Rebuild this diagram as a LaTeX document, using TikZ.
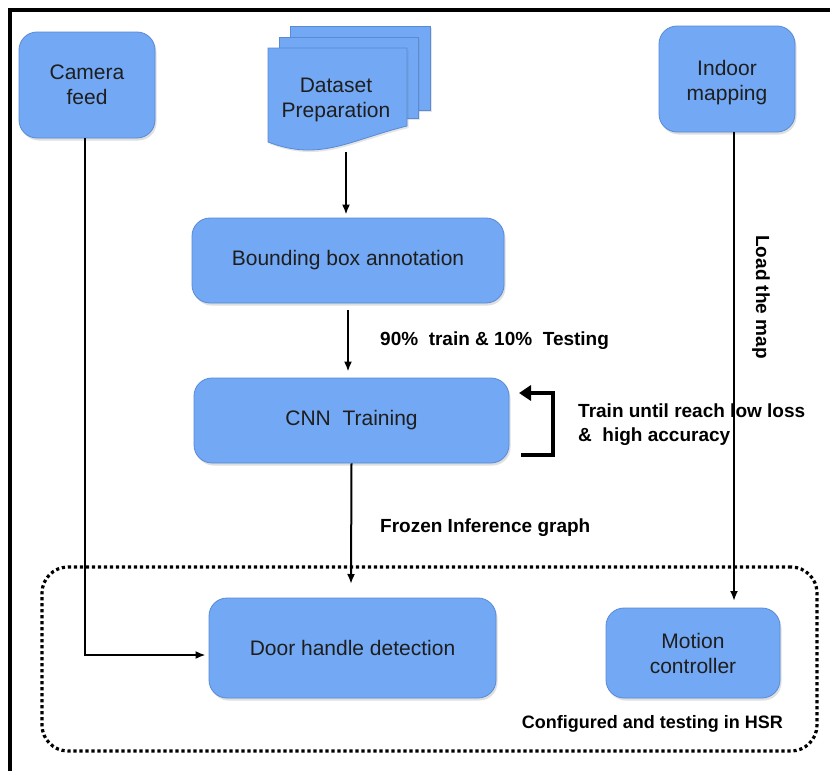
\documentclass[tikz,border=0pt]{standalone}
\usepackage{fontspec}
\setmainfont{Liberation Sans}
\usetikzlibrary{arrows.meta,shadows,calc}
\definecolor{boxfill}{RGB}{114,168,244}
\definecolor{boxline}{RGB}{88,138,214}
\definecolor{txt}{RGB}{30,30,30}
\begin{document}
\begin{tikzpicture}[x=1pt,y=-1pt,
  box/.style={draw=boxline, line width=0.8pt, fill=boxfill, rounded corners=18pt,
    text=txt, font=\fontsize{21}{25}\selectfont, align=center, inner sep=0pt,
    drop shadow={opacity=0.25, shadow xshift=1.5pt, shadow yshift=-2.5pt}},
  sheet/.style={draw=boxline, line width=0.8pt, fill=boxfill},
  arr/.style={line width=2pt, -{Latex[length=10pt,width=8pt]}},
  lbl/.style={font=\bfseries\fontsize{19}{24}\selectfont, text=black, inner sep=0pt},
  frame/.style={line width=3.5pt, line cap=rect},
  hsrbox/.style={draw, line width=3.2pt, dash pattern=on 3.2pt off 2.8pt, rounded corners=26pt}]
\useasboundingbox (0,0) rectangle (830,771);
\fill[white] (0,0) rectangle (830,771);
\draw[frame] (10,775) -- (10,10) -- (835,10);

% container
\node[hsrbox, minimum width=775pt, minimum height=184pt, inner sep=0pt] (hsr) at (429.5,659) {};

% nodes
\node[box, minimum width=136pt, minimum height=106pt] (cam) at (87,85) {Camera\\feed};
\node[box, minimum width=136pt, minimum height=106pt, text depth=0pt] (ind) at (727,79) {};
\node[text=txt, font=\fontsize{21}{25}\selectfont, align=center, inner sep=0pt] (indt) at (727,83) {Indoor\\mapping};
\node[box, minimum width=312pt, minimum height=85pt] (bba) at (348,260.5) {Bounding box annotation};
\node[box, minimum width=315pt, minimum height=85pt] (cnn) at (351.5,420.5) {CNN~ Training};
\node[box, minimum width=287pt, minimum height=100pt] (door) at (352.5,648) {Door handle detection};
\node[box, minimum width=174pt, minimum height=90pt] (mot) at (693,653) {Motion\\controller};

% dataset stack
\path[sheet, drop shadow={opacity=0.2, shadow xshift=1.5pt, shadow yshift=-2pt}] (290,26) rectangle (430,110);
\path[sheet, drop shadow={opacity=0.2, shadow xshift=1.5pt, shadow yshift=-2pt}] (279,37) rectangle (418,118);
\path[sheet, drop shadow={opacity=0.2, shadow xshift=1.5pt, shadow yshift=-2pt}] (268,48) -- (407,48) -- (407,126)
   .. controls (350,140) and (320,162) .. (268,142) -- cycle;
\node[text=txt, font=\fontsize{21}{25}\selectfont, align=center, inner sep=0pt] (ds) at (336,100) {Dataset\\Preparation};
\coordinate (dsout) at (346,152);

% free ends
\coordinate (cnnend) at (351,584);
\coordinate (indend) at (734,601);

% connectors
\draw[arr] (dsout) -- ([xshift=-2pt,yshift=3pt]bba.north);
\draw[arr, shorten <=7pt, shorten >=6pt] (bba.south) -- (bba.south |- cnn.north);
\draw[arr] (cnn.south) -- (cnnend);
\draw[arr] ([xshift=-2pt]cam.south) |- ([xshift=-3pt,yshift=-7pt]door.west);
\draw[arr] (ind.south -| indend) -- (indend);

% loop bracket
\coordinate (lpa) at (521,455);
\coordinate (lpb) at (553,455);
\coordinate (lpc) at (553,393);
\coordinate (lpd) at (519,393);
\draw[line width=4.5pt, -{Triangle[length=12pt,width=15pt]}, line join=miter] (lpa) -- (lpb) -- (lpc) -- (lpd);

% labels
\node[lbl, anchor=west] (l1) at (380,341) {90\%~ train \& 10\%~ Testing};
\node[lbl, anchor=west] (l2) at (380,528) {Frozen Inference graph};
\node[lbl, anchor=west, align=left] (l3) at (578,425) {Train until reach low loss\\\&~ high accuracy};
\node[lbl, anchor=east, font=\bfseries\fontsize{18}{24}\selectfont] (l4) at (783,724) {Configured and testing in HSR};
\node[lbl, rotate=-90] (l5) at (761,297) {Load the map};
\end{tikzpicture}
\end{document}
